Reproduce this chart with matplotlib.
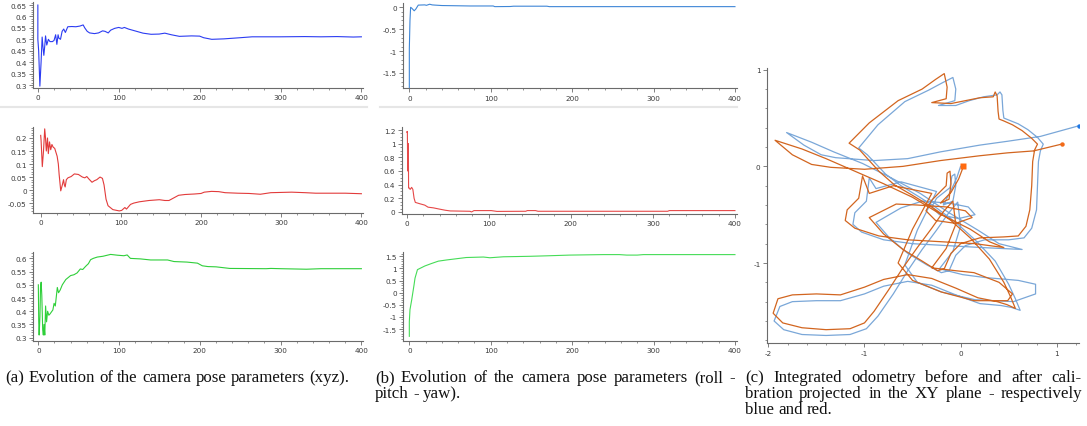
import matplotlib
matplotlib.use("Agg")
import matplotlib.pyplot as plt
from matplotlib.ticker import MultipleLocator, FuncFormatter

W, H = 1087, 427

# ---- camera position (xyz) over iterations ----
X_POS = [(0, 0.65), (0, 0.50), (1, 0.45), (2.5, 0.295), (4, 0.40), (5.3, 0.51), (6.5, 0.46),
         (7.4, 0.43), (8.5, 0.47), (9.5, 0.515), (11, 0.475), (13, 0.50), (15, 0.49), (18, 0.49),
         (20, 0.495), (22, 0.52), (23.5, 0.478), (25, 0.52), (26, 0.505), (28, 0.50), (30, 0.535),
         (32, 0.545), (34, 0.53), (37, 0.555), (42, 0.556), (47, 0.555), (52, 0.558), (56, 0.563),
         (58, 0.55), (61, 0.535), (64, 0.528), (70, 0.525), (75, 0.528), (80, 0.537), (83, 0.535),
         (87, 0.528), (90, 0.540), (95, 0.548), (100, 0.552), (104, 0.548), (107, 0.552),
         (112, 0.545), (120, 0.537), (130, 0.527), (140, 0.522), (150, 0.523), (157, 0.527),
         (165, 0.52), (175, 0.513), (190, 0.515), (200, 0.514), (205, 0.507), (215, 0.500),
         (230, 0.502), (250, 0.507), (265, 0.511), (300, 0.511), (330, 0.512), (350, 0.511),
         (370, 0.512), (390, 0.510), (400, 0.511)]

Y_POS = [(0, 0.21), (0.5, 0.19), (2, 0.09), (3.5, 0.15), (5, 0.235), (6, 0.20), (7, 0.15),
         (8.5, 0.20), (9.5, 0.14), (11, 0.185), (12.5, 0.155), (14, 0.175), (15.5, 0.165),
         (17.5, 0.16), (20.5, 0.13), (22, 0.10), (23, 0.06), (25, -0.003), (27, 0.02),
         (28.5, 0.04), (29.5, 0.02), (30.5, 0.012), (32, 0.04), (34, 0.047), (38, 0.052),
         (42, 0.062), (47, 0.06), (52, 0.05), (55, 0.047), (57.5, 0.052), (60, 0.043), (64, 0.03),
         (67, 0.036), (70, 0.04), (74, 0.05), (77, 0.045), (79, 0.02), (81.5, -0.035),
         (84, -0.06), (90, -0.075), (98, -0.08), (101, -0.078), (105, -0.067), (107, -0.073),
         (112, -0.055), (116, -0.05), (123, -0.045), (135, -0.04), (148, -0.037), (155, -0.04),
         (160, -0.04), (166, -0.03), (172, -0.02), (180, -0.017), (192, -0.015), (200, -0.013),
         (204, -0.008), (213, -0.005), (222, -0.006), (230, -0.01), (246, -0.012), (260, -0.013),
         (274, -0.016), (287, -0.01), (300, -0.009), (313, -0.008), (330, -0.01), (343, -0.012),
         (360, -0.012), (380, -0.012), (400, -0.014)]

Z_POS = [(0, 0.50), (0.5, 0.36), (1, 0.31), (2, 0.38), (2.7, 0.49), (3.5, 0.51), (4.3, 0.46),
         (5.4, 0.33), (6.2, 0.31), (7, 0.35), (8, 0.31), (9, 0.42), (10.2, 0.36), (11.5, 0.40),
         (13, 0.385), (14.5, 0.39), (18, 0.405), (19.5, 0.43), (21, 0.42), (23.5, 0.49),
         (25, 0.47), (27, 0.48), (29.7, 0.50), (34, 0.52), (40, 0.535), (44, 0.538), (48, 0.545),
         (52, 0.56), (55, 0.558), (58.6, 0.57), (62, 0.58), (64.7, 0.595), (68, 0.60),
         (73, 0.605), (80, 0.608), (89.5, 0.615), (98, 0.612), (106, 0.61), (110, 0.613),
         (114, 0.60), (126.6, 0.598), (139, 0.594), (160, 0.594), (168, 0.588), (184, 0.586),
         (197, 0.582), (203, 0.572), (210, 0.569), (220, 0.568), (237, 0.562), (282, 0.561),
         (288, 0.562), (300, 0.561), (332, 0.559), (350, 0.561), (380, 0.561), (400, 0.561)]

# ---- camera orientation (roll, pitch, yaw) over iterations ----
ROLL = [(0, -1.83), (0, -0.95), (0.8, -0.3), (1.6, 0.0), (3, -0.02), (6, -0.08), (8, -0.04),
        (11, 0.05), (19, 0.055), (21, 0.045), (25, 0.07), (28, 0.055), (31.5, 0.05), (40, 0.04),
        (58, 0.035), (74.5, 0.03), (103, 0.03), (105, 0.015), (124, 0.018), (128, 0.025),
        (169, 0.025), (172, 0.015), (250, 0.015), (320, 0.015), (400, 0.015)]

PITCH = [(0, 1.17), (0.8, 1.18), (1.2, 0.6), (2, 1.0), (2.3, 0.35), (3.2, 0.35), (4.2, 0.33),
         (6, 0.36), (7.5, 0.33), (9, 0.2), (10.5, 0.14), (16, 0.12), (22, 0.10), (26, 0.07),
         (32.5, 0.06), (40.6, 0.04), (47, 0.025), (53, 0.015), (77, 0.01), (79, 0.0), (82, 0.02),
         (103, 0.02), (110, 0.008), (145, 0.01), (147, 0.02), (157, 0.02), (160, 0.01),
         (318, 0.01), (320, 0.02), (400, 0.02)]

YAW = [(0, -1.8), (0, -1.2), (0.8, -0.7), (2.9, -0.3), (5.7, 0.3), (7, 0.6), (10, 0.95),
       (13, 1.0), (19, 1.1), (27, 1.2), (35.6, 1.3), (46, 1.35), (58, 1.4), (70, 1.45),
       (91, 1.47), (99, 1.44), (115.5, 1.48), (132, 1.49), (148, 1.5), (169, 1.52), (197, 1.55),
       (238, 1.57), (258, 1.57), (267, 1.55), (280, 1.55), (287.5, 1.57), (400, 1.57)]

# ---- integrated odometry in the XY plane ----
ODOM_AFTER = [
    (0.03, 0.00), (-0.02, -0.13), (-0.10, -0.27), (-0.21, -0.38), (-0.12, -0.34), (-0.10, -0.18),
    (-0.11, -0.05), (-0.14, -0.07), (-0.15, -0.20), (-0.30, -0.35), (-0.36, -0.46), (-0.26, -0.56),
    (-0.05, -0.59), (0.12, -0.53), (0.05, -0.46), (-0.15, -0.42), (-0.45, -0.40), (-0.67, -0.39),
    (-0.95, -0.53), (-0.80, -0.70), (-0.60, -0.86), (-0.40, -0.98), (-0.24, -1.08), (-0.17, -1.06),
    (-0.10, -0.90), (0.00, -0.80), (0.20, -0.74), (0.45, -0.73), (0.60, -0.72), (0.68, -0.62),
    (0.72, -0.45), (0.74, -0.20), (0.75, 0.05), (0.77, 0.17), (0.80, 0.23), (0.74, 0.29),
    (0.64, 0.37), (0.54, 0.43), (0.45, 0.47), (0.40, 0.49), (0.39, 0.57), (0.38, 0.73),
    (0.36, 0.77), (0.34, 0.72), (0.20, 0.71), (0.05, 0.68), (-0.10, 0.65), (-0.30, 0.66),
    (-0.15, 0.70), (-0.14, 0.82), (-0.17, 0.96), (-0.26, 0.90), (-0.40, 0.80), (-0.65, 0.68),
    (-0.95, 0.45), (-1.16, 0.24), (-1.05, 0.17), (-0.85, -0.05), (-0.69, -0.19), (-0.50, -0.30),
    (-0.30, -0.42), (-0.10, -0.56), (0.10, -0.74), (0.30, -0.96), (0.45, -1.20), (0.52, -1.35),
    (0.57, -1.47), (0.48, -1.43), (0.38, -1.40), (0.18, -1.36), (-0.05, -1.26), (-0.30, -1.16),
    (-0.55, -1.12), (-0.80, -1.17), (-1.00, -1.25), (-1.25, -1.33), (-1.50, -1.32), (-1.75, -1.33),
    (-1.90, -1.37), (-1.95, -1.52), (-1.85, -1.62), (-1.65, -1.67), (-1.40, -1.69), (-1.15, -1.68),
    (-1.00, -1.62), (-0.90, -1.50), (-0.75, -1.28), (-0.60, -1.05), (-0.45, -0.84), (-0.30, -0.64),
    (-0.18, -0.47), (-0.08, -0.36), (-0.05, -0.60), (-0.15, -0.85), (-0.30, -1.05), (-0.05, -1.08),
    (0.14, -1.10), (0.40, -1.20), (0.54, -1.32), (0.49, -1.39), (0.14, -1.39), (-0.20, -1.30),
    (-0.50, -1.18), (-0.65, -1.00), (-0.50, -0.65), (-0.30, -0.28), (-0.70, -0.20), (-0.95, -0.28),
    (-1.02, -0.10), (-1.06, -0.33), (-1.18, -0.45), (-1.20, -0.56), (-1.10, -0.64), (-0.85, -0.72),
    (-0.55, -0.76), (-0.20, -0.78), (0.15, -0.80), (0.45, -0.84), (0.30, -0.78), (0.10, -0.65),
    (-0.20, -0.50), (-0.50, -0.32), (-0.80, -0.18), (-1.10, -0.05), (-1.40, 0.08), (-1.65, 0.18),
    (-1.93, 0.27), (-1.75, 0.12), (-1.55, 0.02), (-1.35, -0.01), (-1.00, -0.03), (-0.60, 0.00),
    (-0.21, 0.06), (0.20, 0.11), (0.49, 0.14), (0.76, 0.16), (1.05, 0.23)]

ODOM_BEFORE = [
    (0.00, 0.00), (-0.04, -0.12), (-0.10, -0.25), (-0.18, -0.40), (-0.08, -0.36), (-0.05, -0.20),
    (-0.06, -0.08), (-0.09, -0.10), (-0.11, -0.22), (-0.25, -0.33), (-0.30, -0.42), (-0.22, -0.50),
    (-0.02, -0.54), (0.15, -0.50), (0.08, -0.42), (-0.12, -0.38), (-0.40, -0.36), (-0.62, -0.43),
    (-0.88, -0.58), (-0.74, -0.74), (-0.55, -0.90), (-0.35, -1.02), (-0.20, -1.10), (-0.12, -1.08),
    (-0.05, -0.92), (0.05, -0.82), (0.25, -0.76), (0.50, -0.76), (0.66, -0.74), (0.74, -0.64),
    (0.79, -0.45), (0.80, -0.20), (0.81, 0.05), (0.83, 0.16), (0.86, 0.23), (0.80, 0.30),
    (0.70, 0.38), (0.60, 0.44), (0.50, 0.48), (0.45, 0.50), (0.44, 0.58), (0.43, 0.74),
    (0.41, 0.77), (0.38, 0.74), (0.24, 0.72), (0.09, 0.68), (-0.05, 0.63), (-0.23, 0.63),
    (-0.06, 0.68), (-0.05, 0.80), (-0.08, 0.92), (-0.18, 0.87), (-0.33, 0.79), (-0.58, 0.67),
    (-0.86, 0.43), (-1.06, 0.19), (-0.97, 0.12), (-0.78, -0.08), (-0.62, -0.20), (-0.44, -0.31),
    (-0.25, -0.43), (-0.05, -0.58), (0.15, -0.76), (0.36, -0.98), (0.50, -1.22), (0.57, -1.37),
    (0.62, -1.49), (0.53, -1.46), (0.42, -1.44), (0.20, -1.42), (-0.05, -1.33), (-0.30, -1.23),
    (-0.55, -1.19), (-0.80, -1.24), (-1.00, -1.32), (-1.25, -1.39), (-1.50, -1.39), (-1.75, -1.40),
    (-1.88, -1.45), (-1.94, -1.60), (-1.84, -1.69), (-1.65, -1.74), (-1.40, -1.75), (-1.15, -1.74),
    (-0.98, -1.68), (-0.86, -1.55), (-0.70, -1.32), (-0.55, -1.08), (-0.40, -0.86), (-0.25, -0.66),
    (-0.13, -0.49), (-0.03, -0.37), (0.00, -0.62), (-0.08, -0.88), (-0.22, -1.06), (0.02, -1.12),
    (0.25, -1.15), (0.60, -1.18), (0.78, -1.22), (0.78, -1.32), (0.55, -1.40), (0.15, -1.38),
    (-0.20, -1.30), (-0.45, -1.20), (-0.58, -1.02), (-0.45, -0.66), (-0.25, -0.26), (-0.62, -0.16),
    (-0.88, -0.23), (-0.95, -0.12), (-0.98, -0.36), (-1.10, -0.48), (-1.12, -0.60), (-1.03, -0.68),
    (-0.80, -0.76), (-0.50, -0.80), (-0.15, -0.82), (0.22, -0.84), (0.64, -0.86), (0.40, -0.80),
    (0.18, -0.66), (-0.12, -0.48), (-0.42, -0.28), (-0.72, -0.12), (-1.02, 0.03), (-1.32, 0.15),
    (-1.55, 0.25), (-1.81, 0.35), (-1.63, 0.22), (-1.45, 0.12), (-1.30, 0.09), (-0.90, 0.06),
    (-0.55, 0.08), (-0.21, 0.15), (0.20, 0.22), (0.49, 0.26), (0.83, 0.31), (1.23, 0.42)]

CAPTION_A = ["(a) Evolution of the camera pose parameters (xyz)."]
CAPTION_B = ["(b) Evolution of the camera pose parameters (roll -", "pitch - yaw)."]
CAPTION_C = ["(c) Integrated odometry before and after cali-",
             "bration projected in the XY plane - respectively", "blue and red."]

fig = plt.figure(figsize=(W / 100, H / 100), dpi=100)
fig.patch.set_facecolor("white")

AXIS_GREY = "#6b6b6b"
LABEL_GREY = "#3a3a3a"


def fmt(v, _pos):
    v = round(v, 6)
    if abs(v) < 1e-9:
        return "0"
    return f"{v:g}"


def make_axes(left, right, top, bottom):
    ax = fig.add_axes([left / W, 1 - bottom / H, (right - left) / W, (bottom - top) / H])
    for s in ("top", "right"):
        ax.spines[s].set_visible(False)
    for s in ("left", "bottom"):
        ax.spines[s].set_color(AXIS_GREY)
        ax.spines[s].set_linewidth(0.8)
    ax.tick_params(which="major", direction="out", length=3, width=0.6, color=AXIS_GREY,
                   labelsize=5.2, labelcolor=LABEL_GREY, pad=1.5)
    ax.tick_params(which="minor", direction="out", length=1.6, width=0.5, color=AXIS_GREY)
    ax.xaxis.set_major_formatter(FuncFormatter(fmt))
    ax.yaxis.set_major_formatter(FuncFormatter(fmt))
    ax.patch.set_alpha(0)
    return ax


def series_axes(box, data, color, xlim, ylim, ymaj, ymin):
    ax = make_axes(*box)
    t = [p[0] for p in data]
    v = [p[1] for p in data]
    ax.plot(t, v, color=color, lw=0.8, solid_joinstyle="round")
    ax.set_xlim(*xlim)
    ax.set_ylim(*ylim)
    ax.xaxis.set_major_locator(MultipleLocator(100))
    ax.xaxis.set_minor_locator(MultipleLocator(20))
    ax.yaxis.set_major_locator(MultipleLocator(ymaj))
    ax.yaxis.set_minor_locator(MultipleLocator(ymin))
    return ax


# column (a)
series_axes((33, 363, 3.3, 89), X_POS, "#2b3cf2", (-6, 402), (0.287, 0.662), 0.05, 0.01)
series_axes((33, 363, 128.3, 214), Y_POS, "#e23b3b", (-9.6, 402), (-0.088, 0.241), 0.05, 0.01)
series_axes((33, 363, 253.3, 342), Z_POS, "#2fcf3a", (-6.6, 402), (0.2875, 0.623), 0.05, 0.01)

# column (b)
series_axes((403.3, 737, 4, 89.3), ROLL, "#3f86d6", (-7.4, 402.5), (-1.85, 0.098), 0.5, 0.1)
series_axes((401.7, 737, 128.3, 215), PITCH, "#e64848", (-6.1, 402.5), (-0.03, 1.24), 0.2, 0.05)
series_axes((403.3, 737, 253.3, 341.7), YAW, "#45dc57", (-7.4, 402.5), (-1.98, 1.665), 0.5, 0.1)

# light separators under the top row
fig.add_artist(plt.Line2D([0 / W, 367 / W], [1 - 108 / H] * 2, color="#e6e6e6", lw=1.5))
fig.add_artist(plt.Line2D([380 / W, 737 / W], [1 - 108 / H] * 2, color="#e6e6e6", lw=1.5))

# column (c): odometry trajectories
axc = make_axes(766.7, 1079.3, 69, 344.3)
bx = [p[0] for p in ODOM_BEFORE]
by = [p[1] for p in ODOM_BEFORE]
axx = [p[0] for p in ODOM_AFTER]
ay = [p[1] for p in ODOM_AFTER]
axc.plot(bx, by, color="#7aa7d8", lw=0.9, solid_joinstyle="round")
axc.plot(axx, ay, color="#d2651f", lw=0.9, solid_joinstyle="round")
axc.plot([bx[-1]], [by[-1]], "o", color="#1f78e6", ms=3.2, mec="none")
axc.plot([axx[-1]], [ay[-1]], "o", color="#f26a18", ms=3.2, mec="none")
axc.plot([axx[0]], [ay[0]], "s", color="#ff6a10", ms=5, mec="none")
axc.set_xlim(-2.017, 1.235)
axc.set_ylim(-1.831, 1.018)
axc.xaxis.set_major_locator(MultipleLocator(1))
axc.xaxis.set_minor_locator(MultipleLocator(0.2))
axc.yaxis.set_major_locator(MultipleLocator(1))
axc.yaxis.set_minor_locator(MultipleLocator(0.2))

# captions
SERIF = ["Liberation Serif", "DejaVu Serif"]
CAP_SIZE = 12.2
renderer = fig.canvas.get_renderer()


def text_width(s):
    t = fig.text(0, 0, s, family=SERIF, size=CAP_SIZE)
    w = t.get_window_extent(renderer).width
    t.remove()
    return w


SPACE_W = text_width("a a") - text_width("aa")


def caption_line(text, x0, x1, y, justify):
    words = text.split(" ")
    arts = [fig.text(0, 1 - y / H, w, family=SERIF, size=CAP_SIZE, color="#111111",
                     ha="left", va="baseline") for w in words]
    widths = [a.get_window_extent(renderer).width for a in arts]
    if justify and len(words) > 1:
        gap = (x1 - x0 - sum(widths)) / (len(words) - 1)
    else:
        gap = SPACE_W
    x = x0
    for a, w in zip(arts, widths):
        a.set_position((x / W, 1 - y / H))
        x += w + gap


BASE = [382, 398, 414]
caption_line(CAPTION_A[0], 5, 365, BASE[0], False)
caption_line(CAPTION_B[0], 375, 735, BASE[0], True)
caption_line(CAPTION_B[1], 375, 735, BASE[1], False)
caption_line(CAPTION_C[0], 745, 1082, BASE[0], True)
caption_line(CAPTION_C[1], 745, 1082, BASE[1], True)
caption_line(CAPTION_C[2], 745, 1082, BASE[2], False)

fig.savefig("out.png", dpi=100, facecolor="white")
